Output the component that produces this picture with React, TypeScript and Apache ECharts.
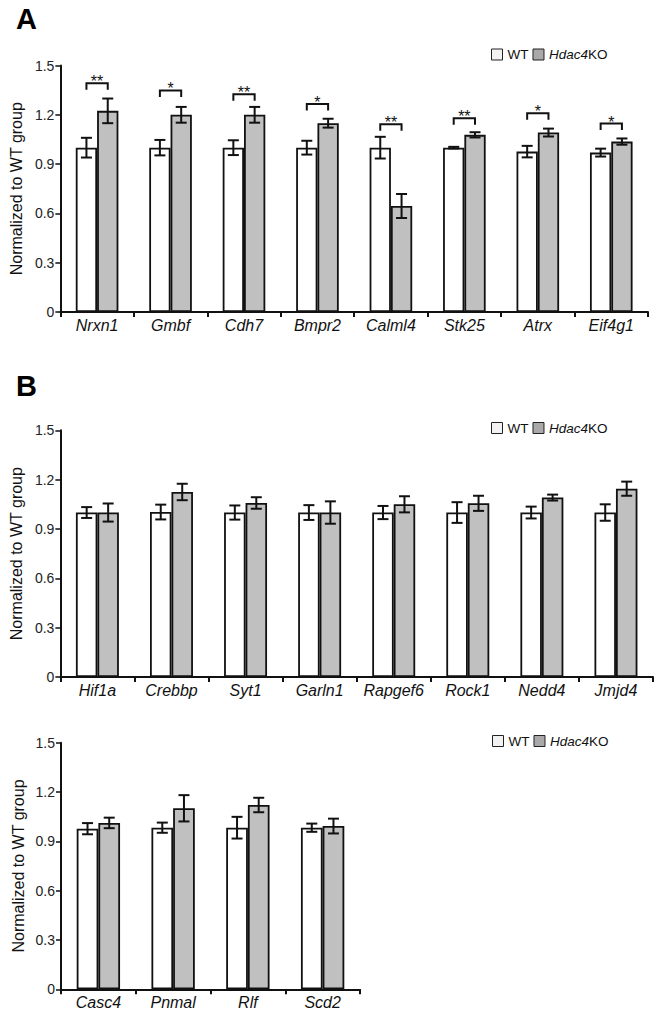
import React, { useEffect, useRef } from "react";
import * as echarts from "echarts";

const FONT = "'Liberation Sans', Arial, sans-serif";

// Panel A
const CATS_A = ["Nrxn1", "Gmbf", "Cdh7", "Bmpr2", "Calml4", "Stk25", "Atrx", "Eif4g1"];
const WT_A = [1.0, 1.0, 1.0, 1.0, 1.0, 1.0, 0.976, 0.97];
const WT_A_ERR = [0.06, 0.047, 0.045, 0.042, 0.066, 0.005, 0.035, 0.024];
const KO_A = [1.224, 1.2, 1.2, 1.149, 0.645, 1.078, 1.092, 1.037];
const KO_A_ERR = [0.075, 0.048, 0.048, 0.027, 0.073, 0.016, 0.024, 0.019];
const SIG_A = ["**", "*", "**", "*", "**", "**", "*", "*"];
const BRACKET_A = [1.392, 1.348, 1.325, 1.266, 1.143, 1.179, 1.21, 1.147];

// Panel B (upper)
const CATS_B = ["Hif1a", "Crebbp", "Syt1", "Garln1", "Rapgef6", "Rock1", "Nedd4", "Jmjd4"];
const WT_B = [1.0, 1.003, 1.0, 1.0, 1.0, 1.0, 1.0, 1.0];
const WT_B_ERR = [0.033, 0.045, 0.043, 0.045, 0.04, 0.063, 0.036, 0.05];
const KO_B = [1.0, 1.125, 1.058, 1.0, 1.05, 1.056, 1.091, 1.145];
const KO_B_ERR = [0.055, 0.05, 0.035, 0.068, 0.049, 0.046, 0.018, 0.043];

// Panel B (lower)
const CATS_C = ["Casc4", "Pnmal", "Rlf", "Scd2"];
const WT_C = [0.977, 0.983, 0.983, 0.983];
const WT_C_ERR = [0.034, 0.031, 0.066, 0.025];
const KO_C = [1.012, 1.101, 1.121, 0.993];
const KO_C_ERR = [0.032, 0.08, 0.044, 0.045];

const Y_TICKS = { min: 0, max: 1.5, interval: 0.3 };
const Y_NAME = "Normalized to WT group";

const OFF = 0.145;

function errRender(sign: number) {
  return (params: any, api: any) => {
    const idx = api.value(0);
    const v = api.value(1);
    const e = api.value(2);
    const c = api.coord([idx, v]);
    const band = api.size([1, 0])[0];
    const cx = c[0] + sign * band * OFF;
    const top = api.coord([idx, v + e])[1];
    const bot = api.coord([idx, v - e])[1];
    const hw = 5.5;
    const st = { stroke: "#111", lineWidth: 2, fill: "none" };
    return {
      type: "group",
      children: [
        { type: "line", shape: { x1: cx, y1: top, x2: cx, y2: bot }, style: st },
        { type: "line", shape: { x1: cx - hw, y1: top, x2: cx + hw, y2: top }, style: st },
        { type: "line", shape: { x1: cx - hw, y1: bot, x2: cx + hw, y2: bot }, style: st },
      ],
    };
  };
}

function bracketRender(params: any, api: any) {
  const idx = api.value(0);
  const v = api.value(1);
  const c = api.coord([idx, v]);
  const band = api.size([1, 0])[0];
  const x1 = c[0] - band * OFF;
  const x2 = c[0] + band * OFF;
  const y = c[1];
  return {
    type: "group",
    children: [
      {
        type: "polyline",
        shape: { points: [[x1, y + 6.5], [x1, y], [x2, y], [x2, y + 6.5]] },
        style: { stroke: "#111", lineWidth: 2, fill: "none" },
      },
      {
        type: "text",
        x: c[0],
        y: y - 1.5,
        style: {
          text: SIG_A[params.dataIndex],
          fontSize: 16,
          fontFamily: FONT,
          fill: "#111",
          align: "center",
          textAlign: "center",
          verticalAlign: "middle",
          textVerticalAlign: "middle",
        },
      },
    ],
  };
}

const PANELS = [
  { cats: CATS_A, wt: WT_A, wtErr: WT_A_ERR, ko: KO_A, koErr: KO_A_ERR, grid: { left: 58, top: 65.5, width: 590, height: 246.5 }, legendTop: 47.5, legendLeft: 491 },
  { cats: CATS_B, wt: WT_B, wtErr: WT_B_ERR, ko: KO_B, koErr: KO_B_ERR, grid: { left: 59, top: 430.3, width: 594, height: 246.7 }, legendTop: 421, legendLeft: 491 },
  { cats: CATS_C, wt: WT_C, wtErr: WT_C_ERR, ko: KO_C, koErr: KO_C_ERR, grid: { left: 61, top: 742.7, width: 299, height: 246.6 }, legendTop: 734, legendLeft: 492 },
];

function buildOption() {
  const grid: any[] = [];
  const xAxis: any[] = [];
  const yAxis: any[] = [];
  const series: any[] = [];
  const legend: any[] = [];
  PANELS.forEach((p, i) => {
    grid.push({ ...p.grid, containLabel: false });
    xAxis.push({
      type: "category",
      gridIndex: i,
      data: p.cats,
      axisLine: { lineStyle: { color: "#111", width: 2 } },
      axisTick: { show: true, length: 5, lineStyle: { color: "#111", width: 2 } },
      axisLabel: { interval: 0, fontStyle: "italic", fontSize: 16, fontFamily: FONT, color: "#111", margin: 5 },
      splitLine: { show: false },
    });
    yAxis.push({
      type: "value",
      gridIndex: i,
      ...Y_TICKS,
      name: Y_NAME,
      nameLocation: "middle",
      nameGap: 35,
      nameRotate: 90,
      nameTextStyle: { fontSize: 16, fontFamily: FONT, color: "#111" },
      axisLine: { show: true, lineStyle: { color: "#111", width: 2 } },
      axisTick: { show: true, length: 5, lineStyle: { color: "#111", width: 1.5 } },
      axisLabel: { fontSize: 14, fontFamily: FONT, color: "#222", margin: 6 },
      splitLine: { show: false },
    });
    series.push({
      name: "WT",
      type: "bar",
      xAxisIndex: i,
      yAxisIndex: i,
      data: p.wt,
      barWidth: "29%",
      barGap: "0%",
      itemStyle: { color: "#ffffff", borderColor: "#111", borderWidth: 1.8 },
      z: 2,
    });
    series.push({
      name: "Hdac4KO",
      type: "bar",
      xAxisIndex: i,
      yAxisIndex: i,
      data: p.ko,
      barWidth: "29%",
      barGap: "0%",
      itemStyle: { color: "#c0c0c0", borderColor: "#111", borderWidth: 1.8 },
      z: 2,
    });
    series.push({
      name: "err-wt-" + i,
      type: "custom",
      xAxisIndex: i,
      yAxisIndex: i,
      data: p.wt.map((v, k) => [k, v, p.wtErr[k]]),
      encode: { x: 0, y: 1 },
      renderItem: errRender(-1),
      z: 5,
      silent: true,
    });
    series.push({
      name: "err-ko-" + i,
      type: "custom",
      xAxisIndex: i,
      yAxisIndex: i,
      data: p.ko.map((v, k) => [k, v, p.koErr[k]]),
      encode: { x: 0, y: 1 },
      renderItem: errRender(1),
      z: 5,
      silent: true,
    });
    legend.push({
      left: p.legendLeft,
      top: p.legendTop,
      padding: 0,
      itemGap: 4,
      itemWidth: 11,
      itemHeight: 11,
      icon: "rect",
      selectedMode: false,
      data: [
        { name: "WT", itemStyle: { color: "#f2f2f2", borderColor: "#222", borderWidth: 1 } },
        { name: "Hdac4KO", itemStyle: { color: "#a9a9a9", borderColor: "#222", borderWidth: 1 } },
      ],
      formatter: (name: string) => (name === "Hdac4KO" ? "{i|Hdac4}{n|KO}" : "{n|WT}"),
      textStyle: {
        fontSize: 13.5,
        fontFamily: FONT,
        color: "#111",
        rich: {
          i: { fontStyle: "italic", fontSize: 13.5, fontFamily: FONT, color: "#111" },
          n: { fontSize: 13.5, fontFamily: FONT, color: "#111" },
        },
      },
    });
  });
  series.push({
    name: "sig-a",
    type: "custom",
    xAxisIndex: 0,
    yAxisIndex: 0,
    data: BRACKET_A.map((v, k) => [k, v]),
    encode: { x: 0, y: 1 },
    renderItem: bracketRender,
    z: 5,
    silent: true,
  });
  return {
    animation: false,
    backgroundColor: "#ffffff",
    textStyle: { fontFamily: FONT },
    grid,
    xAxis,
    yAxis,
    legend,
    series,
    graphic: [
      { type: "text", left: 16, top: 4, style: { text: "A", font: "bold 29px " + FONT, fill: "#000" } },
      { type: "text", left: 16, top: 371, style: { text: "B", font: "bold 29px " + FONT, fill: "#000" } },
    ],
  };
}

export default function App() {
  const ref = useRef<HTMLDivElement>(null);
  useEffect(() => {
    if (!ref.current) return;
    const chart = echarts.init(ref.current, undefined, { renderer: "svg" });
    chart.setOption(buildOption() as any);
    return () => chart.dispose();
  }, []);
  return (
    <div
      ref={ref}
      style={{ position: "absolute", left: 0, top: 0, width: 662, height: 1016, background: "#fff" }}
    />
  );
}
